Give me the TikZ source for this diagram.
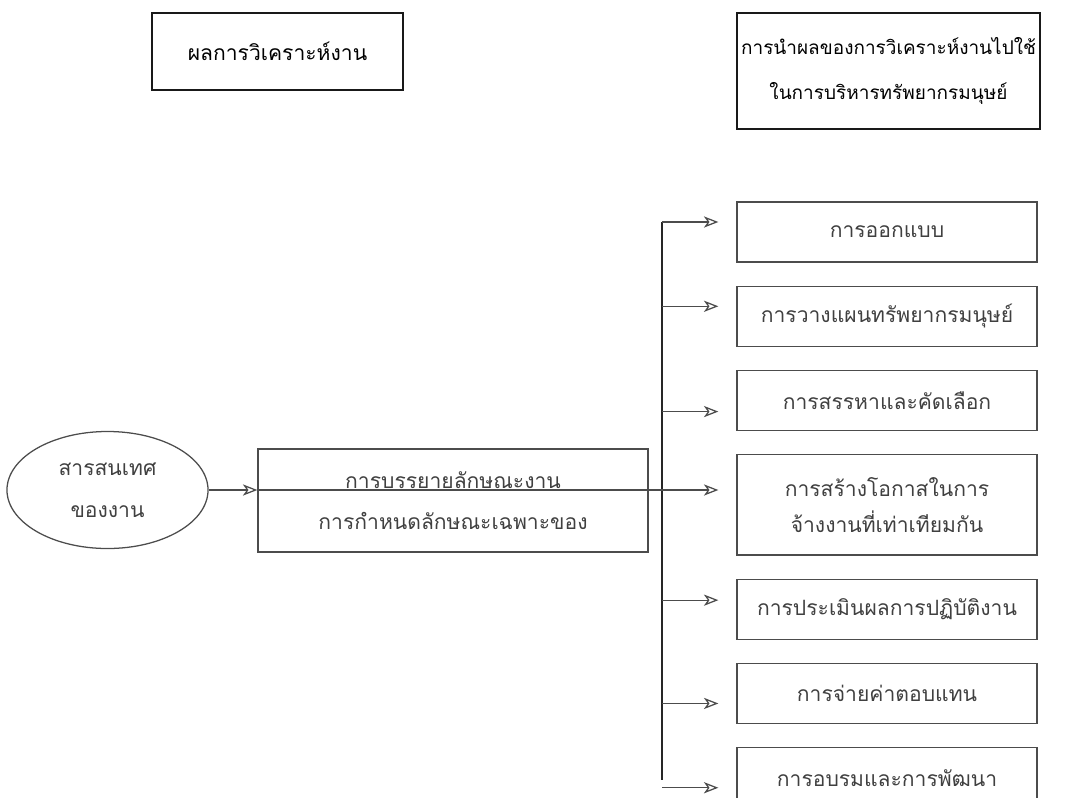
\documentclass[tikz,border=0pt]{standalone}
\usepackage{fontspec}
\newfontfamily\thaifont[Script=Thai]{Loma}
\usetikzlibrary{arrows.meta,positioning,shapes.geometric}

\begin{document}
\begin{tikzpicture}[
      x=0.025cm, y=-0.025cm,
      node distance=0.575cm,
      font=\thaifont\fontsize{15}{26}\selectfont,
      wire/.style={draw=black!70, line width=0.9pt},
      arr/.style={wire, -{Stealth[open, length=3.6mm, width=2.8mm, inset=1mm]}},
      head/.style={
          rectangle, draw=black!90, line width=0.9pt,
          align=center, inner sep=2pt
        },
      task/.style={
          rectangle, draw=black!70, line width=0.9pt,
          align=center, text=black!75,
          minimum width=7.5cm, minimum height=1.5cm
        },
    ]
    \useasboundingbox (0,0) rectangle (1071,797);

    % column titles
    \node[head, minimum width=6.275cm, minimum height=1.925cm] (result) at (277.5,51.5) {ผลการวิเคราะห์งาน};
    \node[head, minimum width=7.575cm, minimum height=2.9cm,
          font=\thaifont\fontsize{13.5}{26}\selectfont] (usage) at (888.5,71)
      {การนำผลของการวิเคราะห์งานไปใช้\\[6pt]ในการบริหารทรัพยากรมนุษย์};

    % source and analysis
    \node[ellipse, draw=black!70, line width=0.9pt, text=black!75,
          minimum width=5.025cm, minimum height=2.925cm, inner sep=0pt, align=center]
      (info) at (107.5,490) {สารสนเทศ\\[4pt]ของงาน};
    \node[task, minimum width=9.75cm, minimum height=2.575cm] (desc) at (453,500.5)
      {การบรรยายลักษณะงาน\\[3pt]การกำหนดลักษณะเฉพาะของ};

    % uses of the results
    \node[task] (design) at (887,232) {การออกแบบ};
    \node[task, below=of design] (plan) {การวางแผนทรัพยากรมนุษย์};
    \node[task, below=of plan] (recruit) {การสรรหาและคัดเลือก};
    \node[task, below=of recruit, minimum height=2.5cm] (equal) {การสร้างโอกาสในการ\\จ้างงานที่เท่าเทียมกัน};
    \node[task, below=of equal] (appraise) {การประเมินผลการปฏิบัติงาน};
    \node[task, below=of appraise] (pay) {การจ่ายค่าตอบแทน};
    \node[task, below=of pay] (train) {การอบรมและการพัฒนา};

    % trunk and branches
    \coordinate (trunk) at (662,222);
    \coordinate (trunkend) at (662,780);
    \draw[wire, draw=black!85] (trunk) -- (trunkend);
    \foreach \task/\dy in {design/0.25cm, plan/0.25cm, recruit/-0.275cm,
                           appraise/0.225cm, pay/-0.25cm, train/-0.25cm}
      \draw[arr, shorten >=0.45cm] ([yshift=\dy]\task.west -| trunk) -- ([yshift=\dy]\task.west);

    \draw[arr] (info.east) -- (info.east -| desc.west);
    \draw[arr, shorten >=0.45cm] (info.east -| desc.west) -- (info.east -| equal.west);
  \end{tikzpicture}
\end{document}
